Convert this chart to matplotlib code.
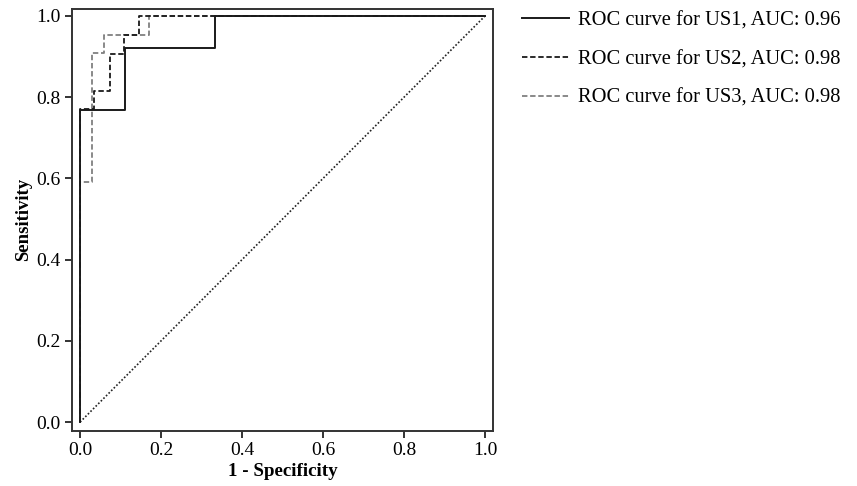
import matplotlib
matplotlib.use("Agg")
import matplotlib.pyplot as plt

# ROC step curves (1 - specificity, sensitivity)
us1_fpr = [0.0, 0.0, 0.111, 0.111, 0.333, 0.333, 1.0]
us1_tpr = [0.0, 0.767, 0.767, 0.92, 0.92, 1.0, 1.0]

us2_fpr = [0.0, 0.0, 0.035, 0.035, 0.074, 0.074, 0.109, 0.109, 0.145, 0.145, 1.0]
us2_tpr = [0.0, 0.77, 0.77, 0.816, 0.816, 0.906, 0.906, 0.953, 0.953, 1.0, 1.0]

us3_fpr = [0.0, 0.0, 0.03, 0.03, 0.058, 0.058, 0.169, 0.169, 1.0]
us3_tpr = [0.0, 0.59, 0.59, 0.908, 0.908, 0.953, 0.953, 1.0, 1.0]

labels = ["ROC curve for US1, AUC: 0.96",
          "ROC curve for US2, AUC: 0.98",
          "ROC curve for US3, AUC: 0.98"]
ticks = [0.0, 0.2, 0.4, 0.6, 0.8, 1.0]

plt.rcParams["font.family"] = ["Liberation Serif", "DejaVu Serif"]

fig = plt.figure(figsize=(8.57, 4.86), dpi=100)
ax = fig.add_axes([0.084, 0.114, 0.4916, 0.8677])

ax.plot([0, 1], [0, 1], color="#222222", linestyle=(0, (1, 1.2)), linewidth=1.2)
ax.plot(us3_fpr, us3_tpr, color="#808080", linestyle=(0, (3, 1.5)), linewidth=1.3, label=labels[2])
ax.plot(us2_fpr, us2_tpr, color="#1a1a1a", linestyle=(0, (3, 1.5)), linewidth=1.3, label=labels[1])
ax.plot(us1_fpr, us1_tpr, color="#1a1a1a", linestyle="-", linewidth=1.4, label=labels[0])

ax.set_xlim(-0.02, 1.02)
ax.set_ylim(-0.021, 1.017)
ax.set_xticks(ticks)
ax.set_yticks(ticks)
ax.set_xticklabels([f"{t:.1f}" for t in ticks])
ax.set_yticklabels([f"{t:.1f}" for t in ticks])
ax.tick_params(direction="out", length=5, width=1.4, labelsize=14, color="#333333", pad=3)
for s in ax.spines.values():
    s.set_linewidth(1.4)
    s.set_color("#333333")

ax.set_xlabel("1 - Specificity", fontsize=13.7, fontweight="bold", labelpad=3)
ax.set_ylabel("Sensitivity", fontsize=13.5, fontweight="bold", labelpad=3)

handles, labs = ax.get_legend_handles_labels()
order = [2, 1, 0]
ax.legend([handles[i] for i in order], [labs[i] for i in order],
          loc="upper left", bbox_to_anchor=(0.599, 0.994), bbox_transform=fig.transFigure,
          frameon=False, fontsize=14.8, handlelength=2.3, handletextpad=0.45,
          labelspacing=0.94, borderaxespad=0.0)

fig.savefig("out.png", dpi=100)
